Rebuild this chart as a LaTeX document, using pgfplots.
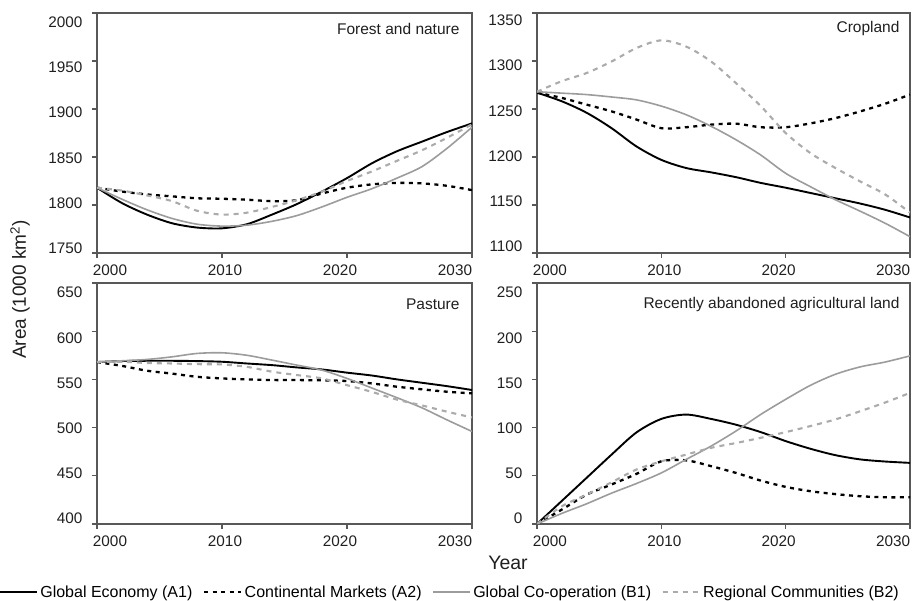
\documentclass[border=0pt]{standalone}
\usepackage{fontspec}
\setmainfont{Liberation Sans}
\usepackage{pgfplots}
\pgfplotsset{compat=1.18}

\definecolor{axgray}{HTML}{585858}
\definecolor{gsolid}{HTML}{9C9C9C}
\definecolor{gdash}{HTML}{ABABAB}

\tikzset{ttl/.style={font=\fontsize{15.5}{17}\selectfont, anchor=east, text=black!88}}

\pgfplotsset{
  panel/.style={
    scale only axis, width=375pt, height=240pt,
    xmin=2000, xmax=2030,
    axis line style={axgray, line width=1.3pt},
    tick style={axgray, line width=1.1pt},
    tick align=outside, major tick length=5pt,
    xtick pos=bottom, ytick pos=left,
    xtick={2000,2010,2020,2030}, xticklabels={,,,},
    extra x ticks={2001.04,2010.24,2019.44,2028.64},
    extra x tick labels={2000,2010,2020,2030},
    extra x tick style={major tick length=0pt},
    extra y tick style={major tick length=0pt},
    tick label style={font=\fontsize{15.3}{17}\selectfont, text=black!88},
    xticklabel style={yshift=-8pt},
    yticklabel style={xshift=-11pt},
    clip=true,
  },
  a1/.style={black, line width=1.9pt, smooth},
  a2/.style={black, line width=2.3pt, dash pattern=on 4pt off 4.5pt, smooth},
  b1/.style={gsolid, line width=1.6pt, smooth},
  b2/.style={gdash, line width=2.1pt, dash pattern=on 5pt off 5pt, smooth},
}

\begin{document}
\begin{tikzpicture}[x=1pt,y=1pt]
\useasboundingbox (0,0) rectangle (913,601);

% Forest and nature
\begin{axis}[panel, at={(97pt,348pt)}, anchor=south west,
  ymin=1750, ymax=2000,
  ytick={1750,1800,1850,1900,1950,2000}, yticklabels={,,,,,},
  extra y ticks={1755,1802.1,1849.2,1896.3,1943.4,1990.6},
  extra y tick labels={1750,1800,1850,1900,1950,2000}]
\addplot[a1] coordinates {(2000,1818)(2002,1802)(2004,1790)(2006,1781)(2008,1776.5)(2010,1775.7)(2012,1780)(2014,1790)(2016,1801)(2018,1814)(2020,1828)(2022,1843.5)(2024,1856)(2026,1866)(2028,1876)(2030,1885)};
\addplot[a2] coordinates {(2000,1818)(2002,1814)(2004,1811)(2006,1809)(2008,1807)(2010,1806.5)(2012,1805.5)(2014,1804)(2016,1805)(2018,1812)(2020,1818)(2022,1821.5)(2024,1823)(2026,1822.5)(2028,1820)(2030,1815.5)};
\addplot[b1] coordinates {(2000,1818)(2002,1806)(2004,1795)(2006,1786)(2008,1780)(2010,1778)(2012,1779)(2014,1783)(2016,1789)(2018,1798)(2020,1808)(2022,1817)(2024,1828)(2026,1840)(2028,1859)(2030,1881)};
\addplot[b2] coordinates {(2000,1818)(2002,1815)(2004,1810)(2006,1804)(2008,1794)(2010,1790)(2012,1792)(2014,1798)(2016,1805)(2018,1814)(2020,1825)(2022,1835)(2024,1846)(2026,1857)(2028,1870)(2030,1884)};
\node[ttl] at (rel axis cs:1,1) [xshift=-9pt, yshift=-16pt] {Forest and nature};
\end{axis}

% Cropland
\begin{axis}[panel, width=373pt, at={(537pt,348pt)}, anchor=south west,
  ymin=1100, ymax=1350,
  ytick={1100,1150,1200,1250,1300,1350}, yticklabels={,,,,,},
  extra y ticks={1106.6,1153.8,1200.9,1248.1,1295.3,1342.4},
  extra y tick labels={1100,1150,1200,1250,1300,1350}]
\addplot[a1] coordinates {(2000,1267)(2002,1258)(2004,1246)(2006,1230)(2008,1211)(2010,1197)(2012,1188.5)(2014,1184)(2016,1179)(2018,1173)(2020,1168)(2022,1162.5)(2024,1157)(2026,1151.5)(2028,1145)(2030,1137)};
\addplot[a2] coordinates {(2000,1267)(2002,1261.5)(2004,1254.5)(2006,1247.5)(2008,1239)(2010,1230)(2012,1231)(2014,1233.7)(2016,1234.7)(2018,1231)(2020,1231)(2022,1235)(2024,1240.5)(2026,1247.5)(2028,1255.5)(2030,1265)};
\addplot[b1] coordinates {(2000,1268)(2002,1266.5)(2004,1265)(2006,1262.5)(2008,1259.5)(2010,1253)(2012,1244)(2014,1232)(2016,1218)(2018,1202)(2020,1183)(2022,1169)(2024,1155.5)(2026,1143.5)(2028,1131)(2030,1117)};
\addplot[b2] coordinates {(2000,1268)(2002,1279)(2004,1287.5)(2006,1299.5)(2008,1313.5)(2010,1321.5)(2012,1315)(2014,1299.5)(2016,1277)(2018,1253)(2020,1225)(2022,1204)(2024,1188.5)(2026,1174.5)(2028,1161)(2030,1142)};
\node[ttl] at (rel axis cs:1,1) [xshift=-7pt, yshift=-16pt] {Cropland};
\end{axis}

% Pasture
\begin{axis}[panel, height=241pt, at={(97pt,77pt)}, anchor=south west,
  ymin=400, ymax=650,
  ytick={400,450,500,550,600,650}, yticklabels={,,,,,},
  extra y ticks={406.2,453,499.7,546.5,593.2,640},
  extra y tick labels={400,450,500,550,600,650},
  legend columns=4,
  legend style={at={(axis description cs:-0.262,-0.282)}, anchor=west,
    draw=none, fill=none, inner sep=0pt,
    font=\fontsize{16}{18}\selectfont,
    nodes={inner xsep=2.5pt, inner ysep=0pt},
    /tikz/every even column/.append style={column sep=8pt}},
  legend cell align=left,
  legend image code/.code={\draw[#1] (0pt,0pt) -- (37pt,0pt);}]
\addplot[a1] coordinates {(2000,568)(2002,569)(2004,569.3)(2006,569.3)(2008,569)(2010,568.3)(2012,566.5)(2014,564.8)(2016,562.4)(2018,560.3)(2020,557)(2022,554)(2024,550)(2026,546.5)(2028,543)(2030,539)};
\addlegendentry{Global Economy (A1)}
\addplot[a2] coordinates {(2000,568)(2002,564)(2004,559)(2006,556)(2008,552.7)(2010,551)(2012,550)(2014,549.3)(2016,549.3)(2018,549)(2020,548.3)(2022,545.8)(2024,542.4)(2026,539.7)(2028,537.2)(2030,535.5)};
\addlegendentry{Continental Markets (A2)}
\addplot[b1] coordinates {(2000,568)(2002,569.3)(2004,570.7)(2006,573.4)(2008,576.9)(2010,577.6)(2012,575)(2014,570)(2016,564.8)(2018,559.6)(2020,551)(2022,541)(2024,531)(2026,520.5)(2028,508)(2030,496)};
\addlegendentry{Global Co-operation (B1)}
\addplot[b2] coordinates {(2000,568)(2002,568.3)(2004,567)(2006,566.5)(2008,565.8)(2010,565.5)(2012,563)(2014,558)(2016,554.5)(2018,551)(2020,544)(2022,537)(2024,529)(2026,523)(2028,516.5)(2030,510.5)};
\addlegendentry{Regional Communities (B2)}
\node[ttl] at (rel axis cs:1,1) [xshift=-9pt, yshift=-21pt] {Pasture};
\end{axis}

% Recently abandoned agricultural land
\begin{axis}[panel, width=373pt, height=241pt, at={(537pt,77pt)}, anchor=south west,
  ymin=0, ymax=250,
  ytick={0,50,100,150,200,250}, yticklabels={,,,,,},
  extra y ticks={6.2,53,99.7,146.5,193.2,240},
  extra y tick labels={0,50,100,150,200,250}]
\addplot[a1] coordinates {(2000,0)(2002,24)(2004,48)(2006,72)(2008,95)(2010,109)(2012,113.5)(2014,109)(2016,103)(2018,95.3)(2020,86)(2022,78)(2024,71.4)(2026,67)(2028,64.8)(2030,63.4)};
\addplot[a2] coordinates {(2000,0)(2002,15)(2004,30.5)(2006,41)(2008,52)(2010,65)(2012,66)(2014,60)(2016,53)(2018,45)(2020,38.5)(2022,34)(2024,31)(2026,28.8)(2028,27.7)(2030,27.7)};
\addplot[b1] coordinates {(2000,0)(2002,11)(2004,21)(2006,32)(2008,42)(2010,53)(2012,67)(2014,80.8)(2016,96.4)(2018,113.7)(2020,129.3)(2022,143.9)(2024,155.3)(2026,163)(2028,168)(2030,174.4)};
\addplot[b2] coordinates {(2000,0)(2002,18.4)(2004,30.5)(2006,43.3)(2008,56.5)(2010,65)(2012,72)(2014,79)(2016,84)(2018,89.4)(2020,95.3)(2022,101.6)(2024,108.5)(2026,117)(2028,126)(2030,136)};
\node[ttl] at (rel axis cs:1,1) [xshift=-7pt, yshift=-21pt] {Recently abandoned agricultural land};
\end{axis}

\node[rotate=90, font=\fontsize{19}{21}\selectfont, text=black!88] at (20,311.5) {Area (1000 km\textsuperscript{2})};
\node[font=\fontsize{19.5}{21}\selectfont, text=black!88] at (508,38.5) {Year};
\end{tikzpicture}
\end{document}
